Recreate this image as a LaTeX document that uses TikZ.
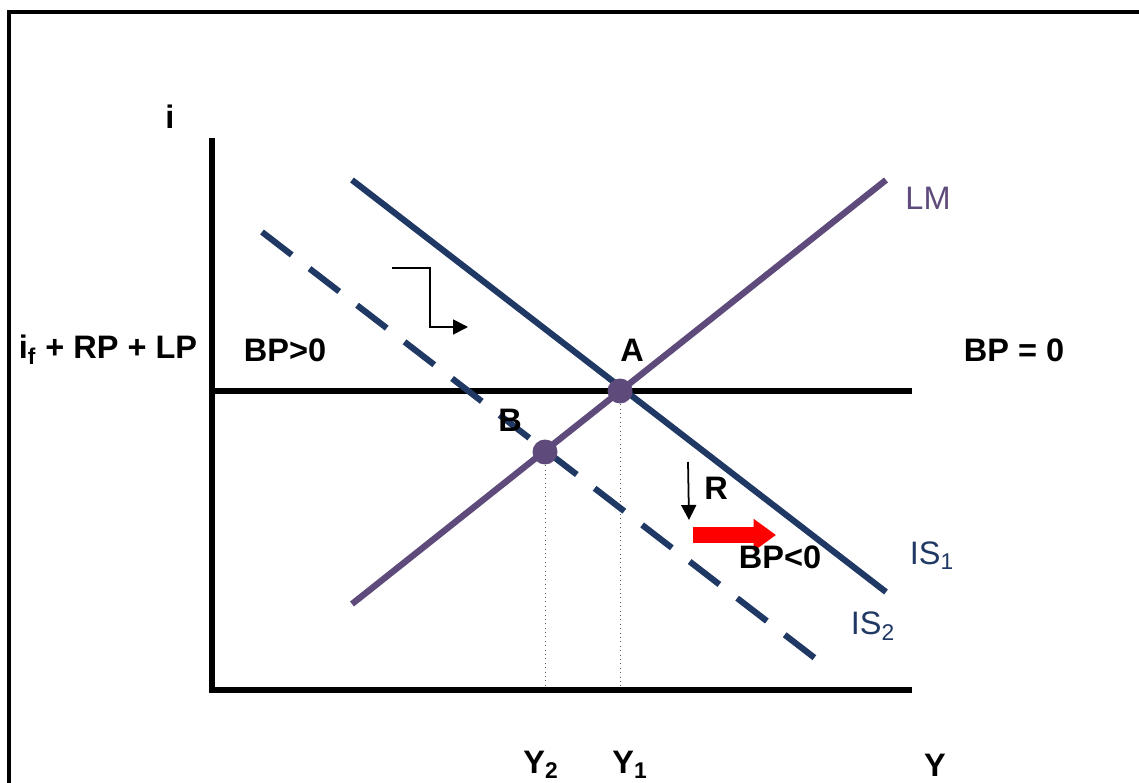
\documentclass[tikz,border=0pt]{standalone}
\usepackage{fontspec}
\setmainfont{Liberation Sans}
\usetikzlibrary{arrows.meta, positioning, calc}
\definecolor{isblue}{HTML}{1F3864}
\definecolor{lmpurple}{HTML}{5E4B7C}

\begin{document}
\begin{tikzpicture}[
    x=0.02cm, y=-0.02cm,
    lbl/.style={font=\fontsize{18.5}{21}\selectfont\bfseries, inner sep=0pt},
    curvelbl/.style={font=\fontsize{18.5}{21}\selectfont, inner sep=0pt},
    axisline/.style={line width=3.8pt},
    isline/.style={isblue, line width=3.5pt},
    dot/.style={circle, fill=lmpurple, minimum size=0.5cm, inner sep=0pt},
    guide/.style={gray!70!black, dotted, line width=0.5pt}
]
\useasboundingbox (0,0) rectangle (1139,783);
\draw[line width=1.8pt] (9,12) rectangle (1160,800);

% curve ends and axes
\coordinate (orig) at (212,690);
\coordinate (ytop) at (212,138);
\coordinate (xend) at (912,690);
\coordinate (bpl) at (212,391);
\coordinate (bpr) at (912,391);
\coordinate (lm1) at (352,604);
\coordinate (lm2) at (886,180);
\coordinate (isa1) at (352,180);
\coordinate (isa2) at (886,592);
\coordinate (isb1) at (262,232);
\coordinate (isb2) at (820,662);
\coordinate (pA) at (620,391);
\coordinate (pB) at (545,452);
\coordinate (y1foot) at (620,690);
\coordinate (y2foot) at (545,690);

\draw[guide] (pA) -- (y1foot);
\draw[guide] (pB) -- (y2foot);
\draw[axisline] (ytop) -- (orig) -- (xend);
\draw[line width=3.3pt] (bpl) -- (bpr);
\draw[isline] (isa1) -- (isa2);
\draw[isline, dash pattern=on 0.75cm off 0.45cm] (isb1) -- (isb2);
\draw[lmpurple, line width=3.6pt] (lm1) -- (lm2);
\node[dot] (A) at (pA) {};
\node[dot] (B) at (pB) {};

% shift arrows
\coordinate (sh1) at (392,268);
\coordinate (sh2) at (468,327);
\draw[line width=1pt, -{Triangle[length=0.3cm, width=0.3cm]}] (sh1) -- (430,268) |- (sh2);
\coordinate (r1) at (688,462);
\coordinate (r2) at (689,520);
\draw[line width=1pt, -{Triangle[length=0.3cm, width=0.3cm]}] (r1) -- (r2);
\coordinate (red1) at (693,535);
\coordinate (red2) at (776,535);
\draw[red, line width=0.33cm, -{Triangle[length=0.45cm, width=0.62cm]}] (red1) -- (red2);

% labels
\node[lbl] (ilbl) at (170,117) {i};
\node[lbl] (rate) at (108,350) {i\textsubscript{f} + RP + LP};
\node[lbl] (bppos) at (285,350) {BP>0};
\node[lbl] (alab) at (632,350) {A};
\node[lbl] (bpzero) at (1014,350) {BP = 0};
\node[lbl] (blab) at (510,420) {B};
\node[curvelbl, text=lmpurple] (lmlab) at (928,198) {LM};
\node[curvelbl, text=isblue] (is1lab) at (932,556) {IS\textsubscript{1}};
\node[curvelbl, text=isblue] (is2lab) at (873,626) {IS\textsubscript{2}};
\node[lbl] (rlab) at (716,488) {R};
\node[lbl] (bpneg) at (780,557) {BP<0};
\node[lbl] (y2lab) at (541,765) {Y\textsubscript{2}};
\node[lbl] (y1lab) at (630,765) {Y\textsubscript{1}};
\node[lbl] (ylab) at (935,765) {Y};
\end{tikzpicture}
\end{document}
